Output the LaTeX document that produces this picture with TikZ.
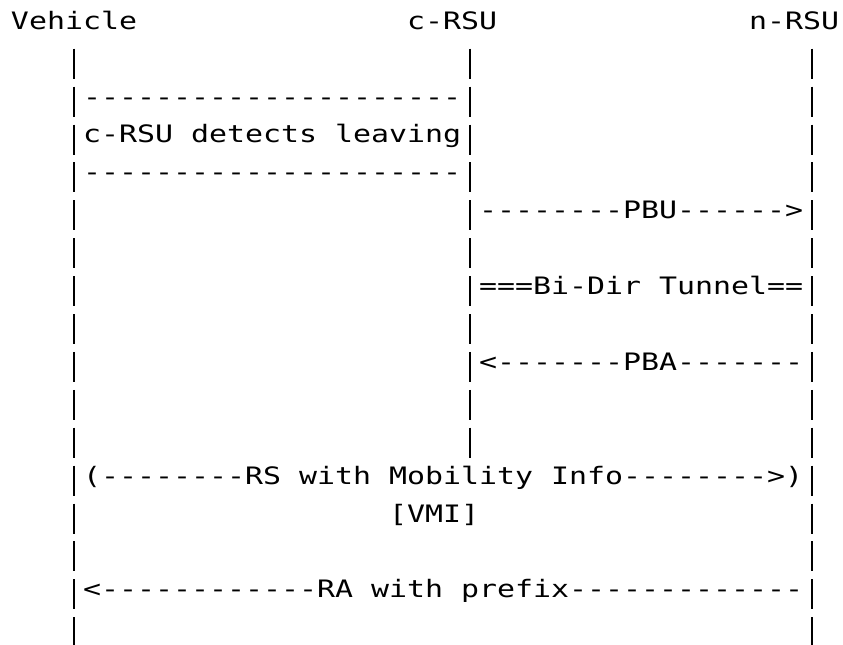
\documentclass[tikz,border=0pt]{standalone}
\usepackage{fontspec}
\newfontfamily\asciifont[FakeStretch=1.246,Ligatures=TeXOff]{DejaVu Sans Mono}

\begin{document}
\begin{tikzpicture}[x=18pt,y=-37.9pt,
  txt/.style={anchor=base west,inner sep=0pt,outer sep=0pt,
    font=\asciifont\fontsize{24}{24}\selectfont},
  life/.style={line width=2.2pt,dash pattern=on 30pt off 7.9pt}]

\useasboundingbox (-0.611,-0.773) rectangle (46.222,16.245);

% headers
\node[txt] (veh) at (0,0) {Vehicle};
\node[txt] (crsu) at (22,0) {c-RSU};
\node[txt] (nrsu) at (41,0) {n-RSU};

% lifelines
\foreach \n/\c/\e in {veh/3/16,crsu/25/11,nrsu/44/16}{
    \coordinate (\n-top) at (\c+0.5,0.512);
    \coordinate (\n-end) at (\c+0.5,\e+0.303);
    \draw[life] (\n-top) -- (\n-end);
}

% messages
\node[txt] (box-top) at (4,2) {---------------------};
\node[txt] (detect) at (4,3) {c-RSU detects leaving};
\node[txt] (box-bot) at (4,4) {---------------------};
\node[txt] (pbu) at (26,5) {--------PBU------>};
\node[txt] (tunnel) at (26,7) {===Bi-Dir Tunnel==};
\node[txt] (pba) at (26,9) {<-------PBA-------};
\node[txt] (rs) at (4,12) {(--------RS with Mobility Info-------->)};
\node[txt] (vmi) at (21,13) {[VMI]};
\node[txt] (ra) at (4,15) {<------------RA with prefix-------------};

\end{tikzpicture}
\end{document}
